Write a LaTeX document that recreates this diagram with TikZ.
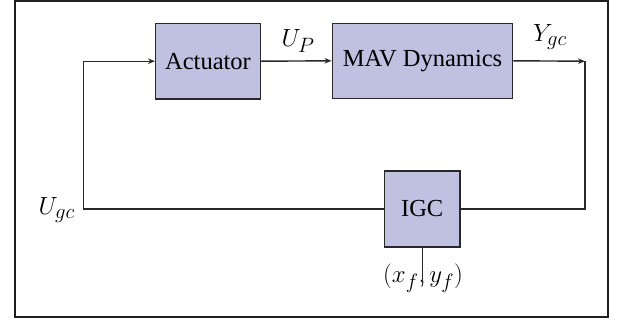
\documentclass[tikz,border=0pt]{standalone}
\usepackage{fontspec}
\setmainfont{Liberation Serif}
\usetikzlibrary{arrows.meta}
\definecolor{boxfill}{RGB}{192,192,224}
\definecolor{linecol}{RGB}{40,40,40}
\begin{document}
\begin{tikzpicture}[x=1pt,y=-1pt,
  blk/.style={draw=linecol,fill=boxfill,line width=1.5pt,inner sep=0pt,
    font=\rmfamily\fontsize{24.5}{29}\selectfont},
  lbl/.style={inner sep=0pt,font=\fontsize{27.5}{32}\selectfont},
  conn/.style={draw=linecol,line width=1.4pt},
  arr/.style={conn,-{Stealth[length=7pt,width=5.5pt]}}]
\useasboundingbox (0,0) rectangle (625,322);
\draw[line width=2.2pt,draw=black!88] (15,1) rectangle (608,317);
\node[blk,minimum width=104.6pt,minimum height=75.7pt] (act) at (208,61.2) {Actuator};
\node[blk,minimum width=180.4pt,minimum height=75pt] (mav) at (422.5,60.8) {MAV Dynamics};
\node[blk,minimum width=75.7pt,minimum height=75.7pt] (igc) at (422.2,208.9) {IGC};
\coordinate (out) at (585,61.2);
\coordinate (in) at (83.3,61.2);
\coordinate (stub) at (422.2,286);
\node[lbl] (up) at (298,41) {$U_P$};
\node[lbl] (ygc) at (550,37) {$Y_{gc}$};
\node[lbl,anchor=east] (ugc) at (75,210) {$U_{gc}$};
\node[lbl] (xy) at (423,278) {$(x_f,y_f)$};
\draw[arr] (act.east) -- (mav.west);
\draw[arr] (mav.east) -- (out);
\draw[conn] (out) |- (igc.east);
\draw[conn] (igc.west) -| (in);
\draw[arr] (in) -- (act.west);
\draw[conn] (igc.south) -- (stub);
\end{tikzpicture}
\end{document}
